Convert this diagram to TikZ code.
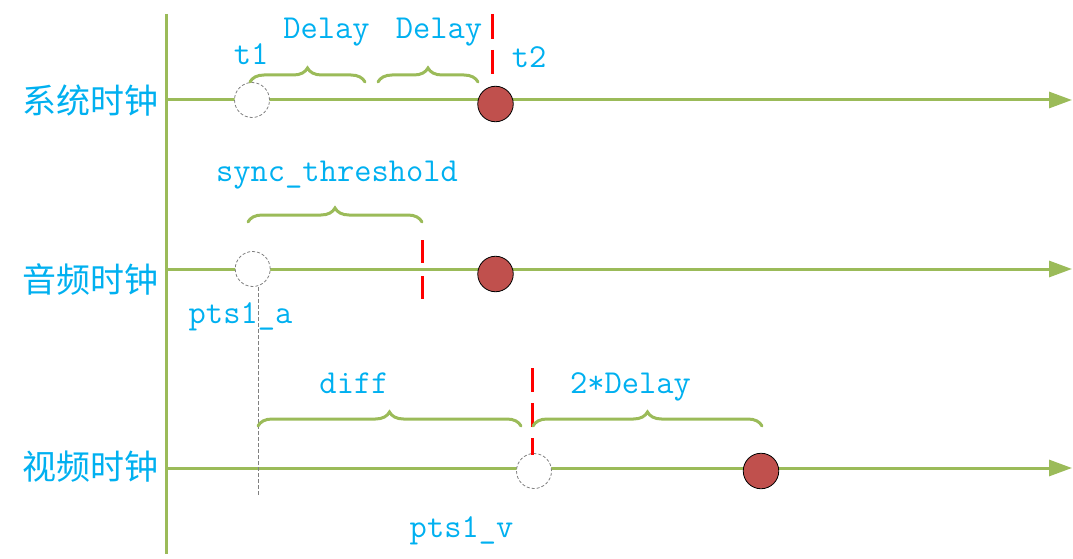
\documentclass[tikz,border=0pt]{standalone}
\usepackage{fontspec}
\newfontfamily\cjk{Noto Sans CJK SC}
\usetikzlibrary{decorations.pathreplacing,arrows.meta}
\definecolor{lblue}{HTML}{00B0F0}
\definecolor{ogreen}{HTML}{9BBB59}
\definecolor{dred}{HTML}{C0504D}
\begin{document}
\begin{tikzpicture}[x=1pt,y=-1pt,
  axisline/.style={ogreen, line width=3pt},
  timeline/.style={ogreen, line width=3pt, -{Triangle[length=23pt,width=16pt]}},
  hollow/.style={circle, draw=gray, dash pattern=on 3pt off 2pt, line width=0.8pt, fill=white, minimum size=35pt, inner sep=0pt},
  event/.style={circle, draw=black, line width=0.8pt, fill=dred, minimum size=35.5pt, inner sep=0pt},
  redmark/.style={red, line width=3pt},
  bracegreen/.style={ogreen, line width=3pt, line cap=round, decorate, decoration={brace, amplitude=14pt}},
  lbl/.style={text=lblue, font=\ttfamily\fontsize{33.5}{36}\selectfont, inner sep=0pt, anchor=base},
  clk/.style={text=lblue, font=\cjk\fontsize{34}{36}\selectfont, inner sep=0pt},
  guide/.style={gray, line width=0.8pt, dash pattern=on 4pt off 2pt}
]
\useasboundingbox (0,0) rectangle (1073,559);

% axis
\coordinate (axtop) at (166,14);
\coordinate (axbot) at (166,554);
\draw[axisline] (axtop) -- (axbot);

% row coordinates
\coordinate (s0) at (166,100);  \coordinate (s1) at (1072,100);
\coordinate (a0) at (166,269);  \coordinate (a1) at (1072,269);
\coordinate (v0) at (166,468);  \coordinate (v1) at (1072,468);
\draw[timeline] (s0) -- (s1);
\draw[timeline] (a0) -- (a1);
\draw[timeline] (v0) -- (v1);

% clock labels
\node[clk] (ls) at (90.5,101) {系统时钟};
\node[clk] (la) at (90.5,279) {音频时钟};
\node[clk] (lv) at (90.5,466.5) {视频时钟};

% row 1: system clock
\node[hollow] (t1c) at (252,100) {};
\node[event] (t2c) at (495.5,104) {};
\coordinate (r1a) at (492,14); \coordinate (r1b) at (492,74);
\draw[redmark, dash pattern=on 25pt off 11pt] (r1a) -- (r1b);
\coordinate (b1a) at (250,82); \coordinate (b1b) at (365,82);
\draw[bracegreen] (b1a) -- (b1b);
\coordinate (b2a) at (378,82); \coordinate (b2b) at (478,82);
\draw[bracegreen] (b2a) -- (b2b);
\node[lbl] (t1) at (251,65) {t1};
\node[lbl] (t2) at (529,68) {t2};
\node[lbl] (d1) at (326.5,39) {Delay};
\node[lbl] (d2) at (439,39) {Delay};

% row 2: audio clock
\node[hollow] (pac) at (252.7,269) {};
\node[event] (ae) at (495.5,274) {};
\coordinate (r2a) at (422,240); \coordinate (r2b) at (422,300);
\draw[redmark, dash pattern=on 23pt off 13pt] (r2a) -- (r2b);
\coordinate (b3a) at (248,222); \coordinate (b3b) at (422,222);
\draw[bracegreen] (b3a) -- (b3b);
\node[lbl] (sync) at (337,181.7) {sync\_threshold};
\node[lbl] (pa) at (240.5,323) {pts1\_a};
\coordinate (g1) at (258.3,287); \coordinate (g2) at (258.3,495);
\draw[guide] (g1) -- (g2);

% row 3: video clock
\node[hollow] (pvc) at (534,471) {};
\node[event] (ve) at (761,471) {};
\coordinate (r3a) at (532,368); \coordinate (r3b) at (532,455);
\draw[redmark, dash pattern=on 24pt off 11pt] (r3a) -- (r3b);
\coordinate (b4a) at (258,426); \coordinate (b4b) at (521,426);
\draw[bracegreen] (b4a) -- (b4b);
\coordinate (b5a) at (533,426); \coordinate (b5b) at (762,426);
\draw[bracegreen] (b5a) -- (b5b);
\node[lbl] (diff) at (354,393) {diff};
\node[lbl] (dd) at (630.5,393) {2*Delay};
\node[lbl] (pv) at (461.5,537) {pts1\_v};
\end{tikzpicture}
\end{document}
